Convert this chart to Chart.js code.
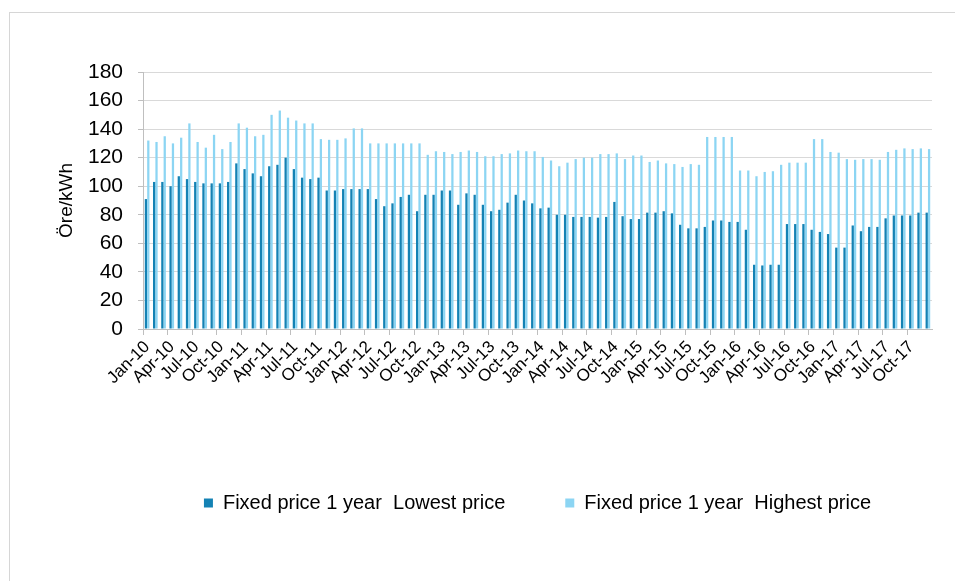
<!DOCTYPE html>
<html>
<head>
<meta charset="utf-8">
<script src="https://cdn.jsdelivr.net/npm/chart.js@4"></script>
<style>
  html, body { margin: 0; padding: 0; background: #fff; overflow: hidden; }
  #wrap { position: relative; width: 955px; height: 581px; }
  #frame { position: absolute; left: 9px; top: 12px; width: 2000px; height: 2000px;
           border-left: 1px solid #d6d6d6; border-top: 1px solid #d6d6d6; box-sizing: border-box; }
  canvas { position: absolute; left: 0; top: 0; }
</style>
</head>
<body>
<div id="wrap">
  <div id="frame"></div>
  <canvas id="c" width="955" height="581"></canvas>
</div>
<script>
const monthNames = ['Jan','Feb','Mar','Apr','May','Jun','Jul','Aug','Sep','Oct','Nov','Dec'];
const years = ['10','11','12','13','14','15','16','17'];
const categories = [];
years.forEach(y => monthNames.forEach(m => categories.push(m + '-' + y)));

const seriesNames = ['Fixed price 1 year  Lowest price', 'Fixed price 1 year  Highest price'];

const lowestPrice = [
  91, 103, 103, 100, 107, 105, 103, 102, 102, 102, 103, 116,
  112, 109, 107, 114, 115, 120, 112, 106, 105, 106, 97, 97,
  98, 98, 98, 98, 91, 86, 88, 92.5, 94, 82.5, 94, 94,
  97, 97, 87, 95, 94, 87, 82.5, 83.5, 88.5, 94, 90, 88,
  84.5, 85, 80, 80, 78.5, 78.5, 78.5, 78, 78.5, 89, 79, 77,
  77, 81.5, 81.5, 82.5, 81, 73, 70.5, 70.5, 71.5, 76, 76, 75,
  75, 69.5, 45, 44.5, 45, 45, 73.5, 73.5, 73.5, 69.5, 68, 66.5,
  57, 57, 72.5, 68.5, 71.5, 71.5, 77.5, 79.5, 79.5, 79.5, 81.5, 81.5
];
const highestPrice = [
  132, 131, 135, 130, 134, 144, 131, 127, 136, 126, 131, 144,
  141, 135, 136, 150, 153, 148, 146, 144, 144, 133, 132.5, 132.5,
  133.5, 140.5, 140.5, 130, 130, 130, 130, 130, 130, 130, 122, 124.5,
  124, 122.5, 124, 125, 124, 121, 121, 122.5, 123, 125, 124.5, 124.5,
  120.5, 118, 114, 116.5, 119, 120, 120, 122.5, 122.5, 123, 119, 121.5,
  121.5, 117, 118, 116, 115.5, 113.5, 115.5, 115, 134.5, 134.5, 134.5, 134.5,
  111, 111, 107, 110, 110.5, 115, 116.5, 116.5, 116.5, 133, 133, 124,
  123.5, 119, 118.5, 119, 119, 118.5, 124, 125.5, 126.5, 126, 126.5, 126
];
const yTicks = { min: 0, max: 180, step: 20 };

const FONT = "'Liberation Sans', Arial, sans-serif";

new Chart(document.getElementById('c'), {
  type: 'bar',
  data: {
    labels: categories,
    datasets: [
      { label: seriesNames[0], data: lowestPrice, backgroundColor: '#1482b4',
        categoryPercentage: 0.58, barPercentage: 0.95 },
      { label: seriesNames[1], data: highestPrice, backgroundColor: '#8cd5f3',
        categoryPercentage: 0.58, barPercentage: 0.95 }
    ]
  },
  options: {
    responsive: false,
    animation: false,
    devicePixelRatio: 1,
    layout: { padding: { left: 0, right: 23, top: 72, bottom: 58 } },
    plugins: {
      tooltip: { enabled: false },
      legend: {
        position: 'bottom',
        fullSize: false,
        labels: {
          font: { family: FONT, size: 20 },
          color: '#000',
          boxWidth: 9,
          boxHeight: 9,
          padding: 60
        }
      }
    },
    scales: {
      x: {
        offset: true,
        grid: {
          offset: true,
          drawOnChartArea: false,
          drawTicks: true,
          tickLength: 6,
          color: (ctx) => (ctx.index % 3 === 0 ? '#bfbfbf' : 'rgba(0,0,0,0)')
        },
        border: { color: '#bfbfbf' },
        ticks: {
          autoSkip: false,
          minRotation: 45,
          maxRotation: 45,
          padding: 2,
          color: '#000',
          font: { family: FONT, size: 17 },
          callback: function (v, i) { return i % 3 === 0 ? categories[i] : ''; }
        },
        afterFit: (s) => { s.height = 104; }
      },
      y: {
        min: yTicks.min,
        max: yTicks.max,
        ticks: {
          stepSize: yTicks.step,
          autoSkip: false,
          padding: 15,
          color: '#000',
          font: { family: FONT, size: 21 }
        },
        grid: { color: '#d9d9d9', tickLength: 5, tickColor: '#bfbfbf' },
        border: { color: '#bfbfbf' },
        title: {
          display: true,
          text: 'Öre/kWh',
          color: '#000',
          font: { family: FONT, size: 19 },
          padding: { top: 55, bottom: 0 }
        },
        afterFit: (s) => { s.width = 143; }
      }
    }
  }
});
</script>
</body>
</html>
